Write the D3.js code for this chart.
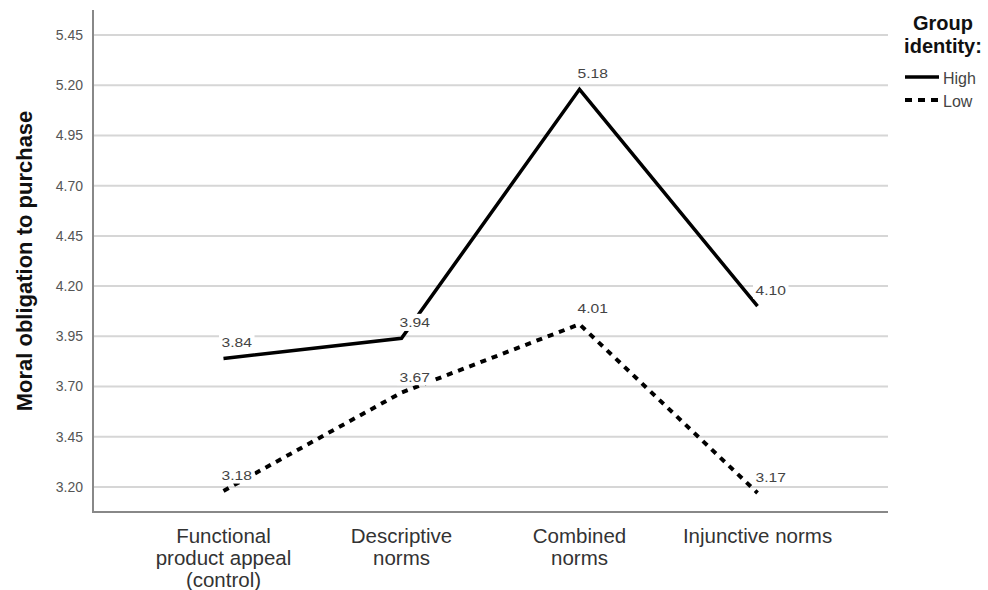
<!DOCTYPE html>
<html><head><meta charset="utf-8">
<script src="https://cdn.jsdelivr.net/npm/d3@7"></script>
<style>body{margin:0;background:#fff}svg{display:block;font-family:Arial,"Liberation Sans",sans-serif}</style>
</head><body>
<svg id="c" width="988" height="590"></svg>
<script>
const categories = [["Functional","product appeal","(control)"],["Descriptive","norms"],["Combined","norms"],["Injunctive norms"]];
const catKeys = ["Functional product appeal (control)","Descriptive norms","Combined norms","Injunctive norms"];
const highValues = [3.84, 3.94, 5.18, 4.10];
const lowValues = [3.18, 3.67, 4.01, 3.17];
const yTicks = [3.20, 3.45, 3.70, 3.95, 4.20, 4.45, 4.70, 4.95, 5.20, 5.45];
const seriesNames = ["High", "Low"];

const svg = d3.select("#c");
const L = 93, R = 888, T = 10, B = 512;
const x = d3.scalePoint().domain(catKeys).range([L, R]).padding(0.733);
const y = d3.scaleLinear().domain([3.075, 5.575]).range([B, T]);

// gridlines
svg.append("g").selectAll("line").data(yTicks).join("line")
  .attr("x1", L).attr("x2", R).attr("y1", d => y(d)).attr("y2", d => y(d))
  .attr("stroke", "#d6d6d6").attr("stroke-width", 2);

// y axis
const ya = svg.append("g").attr("transform", `translate(${L},0)`)
  .call(d3.axisLeft(y).tickValues(yTicks).tickFormat(d3.format(".2f")).tickSize(0).tickPadding(10));
ya.select(".domain").remove();
ya.selectAll("text").attr("fill", "#555").attr("font-size", 14).attr("font-family", "Arial,'Liberation Sans',sans-serif");

// axes lines
svg.append("line").attr("x1", L).attr("x2", L).attr("y1", T).attr("y2", B).attr("stroke", "#888").attr("stroke-width", 2);
svg.append("line").attr("x1", L-1).attr("x2", R).attr("y1", B).attr("y2", B).attr("stroke", "#888").attr("stroke-width", 2);

// x labels
const xl = svg.append("g");
catKeys.forEach((k, i) => {
  const t = xl.append("text").attr("x", x(k)).attr("text-anchor", "middle")
    .attr("fill", "#333").attr("font-size", 20.5);
  categories[i].forEach((ln, j) => {
    t.append("tspan").attr("x", x(k)).attr("y", 543 + j * 22).text(ln);
  });
});

// y title
svg.append("text").attr("transform", `translate(32,${(T+B)/2}) rotate(-90)`)
  .attr("text-anchor", "middle").attr("font-weight", "bold").attr("font-size", 22).attr("fill", "#111")
  .text("Moral obligation to purchase");

// lines
const line = d3.line().x((d, i) => x(catKeys[i])).y(d => y(d));
svg.append("path").datum(highValues).attr("d", line).attr("fill", "none")
  .attr("stroke", "#000").attr("stroke-width", 3.5).attr("stroke-linejoin", "miter");
svg.append("path").datum(lowValues).attr("d", line).attr("fill", "none")
  .attr("stroke", "#000").attr("stroke-width", 4).attr("stroke-dasharray", "6,6");

// data labels
function labels(vals) {
  vals.forEach((v, i) => {
    const px = x(catKeys[i]), py = y(v);
    const g = svg.append("g").attr("transform", `translate(${px - 2},${py - 11}) scale(1.25,1)`);
    const t = g.append("text").attr("x", 0).attr("y", 0)
      .attr("font-size", 12.5).attr("fill", "#444").text(v.toFixed(2));
    const bb = t.node().getBBox();
    g.insert("rect", "text").attr("x", bb.x - 2).attr("y", bb.y - 2)
      .attr("width", bb.width + 4).attr("height", bb.height + 3).attr("fill", "#fff");
  });
}
labels(highValues);
labels(lowValues);

// legend
const lg = svg.append("g");
lg.append("text").attr("x", 943).attr("y", 30).attr("text-anchor", "middle").attr("font-weight", "bold")
  .attr("font-size", 20).attr("fill", "#111").text("Group");
lg.append("text").attr("x", 943).attr("y", 53).attr("text-anchor", "middle").attr("font-weight", "bold")
  .attr("font-size", 20).attr("fill", "#111").text("identity:");
seriesNames.forEach((s, i) => {
  const yy = 77 + i * 23;
  lg.append("line").attr("x1", 905).attr("x2", 939).attr("y1", yy).attr("y2", yy)
    .attr("stroke", "#000").attr("stroke-width", i === 0 ? 3.5 : 4)
    .attr("stroke-dasharray", i === 0 ? null : "7,6");
  lg.append("text").attr("x", 943).attr("y", yy + 7).attr("font-size", 16).attr("fill", "#444").text(s);
});
</script>
</body></html>
